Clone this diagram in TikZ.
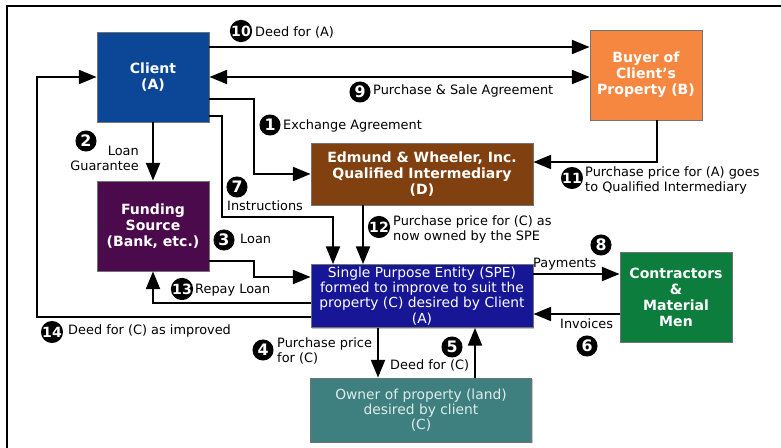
\documentclass[tikz,border=0pt]{standalone}
\usepackage{fontspec}
\setmainfont{DejaVu Sans}
\usetikzlibrary{arrows.meta,shadows}

\definecolor{clientblue}{RGB}{12,70,150}
\definecolor{buyerorange}{RGB}{245,135,65}
\definecolor{qibrown}{RGB}{128,64,16}
\definecolor{fundpurple}{RGB}{74,10,76}
\definecolor{speblue}{RGB}{22,22,150}
\definecolor{contrgreen}{RGB}{12,125,60}
\definecolor{ownerteal}{RGB}{62,128,128}
\definecolor{ownertext}{RGB}{225,235,235}

\begin{document}
\begin{tikzpicture}[x=0.03cm,y=-0.03cm,
  box/.style={draw=black!55,line width=0.8pt,text=white,align=center,
    font=\bfseries\fontsize{12}{13.6}\selectfont,inner sep=2pt,
    drop shadow={shadow xshift=1.2pt,shadow yshift=-1.2pt,fill=black!45}},
  plainbox/.style={box,font=\fontsize{11.8}{13}\selectfont},
  link/.style={line width=1.4pt,-{Triangle[length=15pt,width=12pt]}},
  dual/.style={line width=1.4pt,{Triangle[length=15pt,width=12pt]}-{Triangle[length=15pt,width=12pt]}},
  num/.style={circle,fill=black,text=white,inner sep=0pt,minimum size=18pt,
    font=\bfseries\fontsize{13.5}{13.5}\selectfont},
  bignum/.style={num,font=\bfseries\fontsize{12}{12}\selectfont},
  lbl/.style={anchor=west,inner sep=0pt,align=left,font=\fontsize{11}{12.8}\selectfont}]
\useasboundingbox (0,0) rectangle (781,448);
\draw[line width=1.7pt] (7,448) -- (7,6) -- (781,6);

% boxes
\node[box,fill=clientblue,minimum width=3.36cm,minimum height=2.7cm] (client) at (153,77) {Client\\(A)};
\node[box,fill=buyerorange,minimum width=3.36cm,minimum height=2.7cm] (buyer) at (646,75) {Buyer of\\Client's\\Property (B)};
\node[box,fill=qibrown,minimum width=6.66cm,minimum height=1.86cm] (qi) at (422,174) {Edmund \& Wheeler, Inc.\\Qualified Intermediary\\(D)};
\node[box,fill=fundpurple,minimum width=3.36cm,minimum height=2.7cm] (fund) at (153,226) {Funding\\Source\\(Bank, etc.)};
\node[plainbox,fill=speblue,minimum width=6.66cm,minimum height=1.89cm] (spe) at (422,296) {Single Purpose Entity (SPE)\\formed to improve to suit the\\property (C) desired by Client\\(A)};
\node[box,fill=contrgreen,minimum width=3.36cm,minimum height=2.7cm] (contr) at (676,297) {Contractors\\\&\\Material\\Men};
\node[plainbox,fill=ownerteal,text=ownertext,minimum width=6.63cm,minimum height=1.92cm] (owner) at (421,410) {Owner of property (land)\\desired by client\\(C)};

% connectors
\draw[link] (client.east |- 0,47) -- (buyer.west |- 0,47);
\draw[dual] (client.east |- 0,77) -- (buyer.west |- 0,77);
\draw[link] (client.east |- 0,99) -- (254,99) |- (qi.west);
\draw[link] (client.east |- 0,116) -| (222,217) -| (333,0 |- spe.north);
\draw[link] (client.south) -- (fund.north);
\draw[link] (qi.south -| 363,0) -- (spe.north -| 363,0);
\draw[link] (fund.east |- 0,261) -- (254,261) |- (spe.west |- 0,277);
\draw[link] (spe.west |- 0,303) -| (fund.south);
\draw[link] (spe.west |- 0,317) -- (37,317) |- (client.west);
\draw[link] (buyer.south -| 657,0) |- (qi.east |- 0,162);
\draw[link] (spe.east |- 0,274) -- (contr.west |- 0,274);
\draw[link] (contr.west |- 0,314) -- (spe.east |- 0,314);
\draw[link] (spe.south -| 378,0) -- (owner.north -| 378,0);
\draw[link] (owner.north -| 475,0) -- (spe.south -| 475,0);

% step numbers and labels
\node[bignum] (n10) at (241,31) {10};
\node[lbl] (t10) at (255,32) {Deed for (A)};
\node[num] (n9) at (360,92) {9};
\node[lbl] (t9) at (373,91) {Purchase \& Sale Agreement};
\node[num] (n1) at (270,125) {1};
\node[lbl] (t1) at (283,126) {Exchange Agreement};
\node[num] (n2) at (86,141) {2};
\node[lbl,anchor=east,align=right] (t2) at (139,158) {Loan\\Guarantee};
\node[num] (n7) at (237,187) {7};
\node[lbl] (t7) at (227,206) {Instructions};
\node[bignum] (n11) at (572,178) {11};
\node[lbl] (t11) at (585,180) {Purchase price for (A) goes\\to Qualified Intermediary};
\node[bignum] (n12) at (379,227) {12};
\node[lbl] (t12) at (393,229) {Purchase price for (C) as\\now owned by the SPE};
\node[num] (n3) at (224,240) {3};
\node[lbl] (t3) at (240,239) {Loan};
\node[num] (n8) at (601,245) {8};
\node[lbl] (t8) at (533,264) {Payments};
\node[bignum] (n13) at (182,289) {13};
\node[lbl] (t13) at (195,290) {Repay Loan};
\node[lbl] (t6) at (560,324) {Invoices};
\node[num] (n6) at (587,346) {6};
\node[bignum] (n14) at (52,332) {14};
\node[lbl] (t14) at (68,331) {Deed for (C) as improved};
\node[num] (n4) at (263,350) {4};
\node[lbl] (t4) at (277,351) {Purchase price\\for (C)};
\node[num] (n5) at (452,347) {5};
\node[lbl] (t5) at (390,365) {Deed for (C)};
\end{tikzpicture}
\end{document}
